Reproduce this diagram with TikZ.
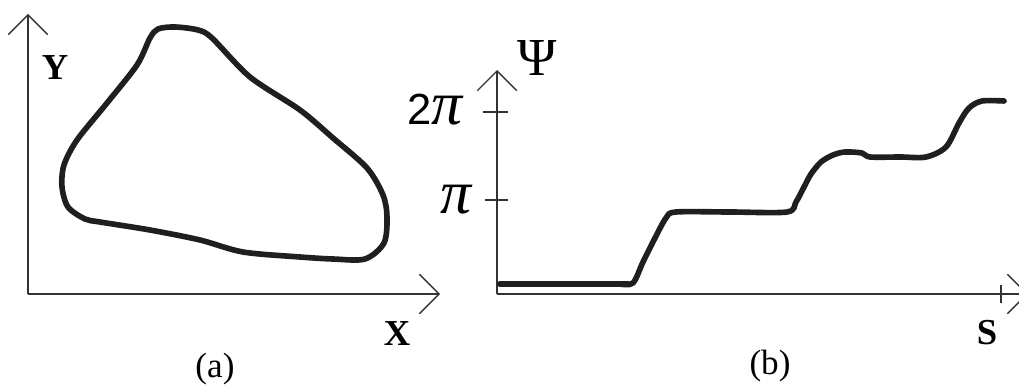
\documentclass[tikz,border=0pt]{standalone}
\usepackage{fontspec}
\setmainfont{Liberation Serif}
\newfontfamily\axfont{Liberation Sans}
\usetikzlibrary{arrows.meta}

\begin{document}
\begin{tikzpicture}[
x=0.025cm, y=-0.025cm,
axis/.style={draw=black!80, line width=1pt, -{Straight Barb[length=14pt, width=28pt, line width=1pt]}},
tick/.style={draw=black!80, line width=1pt},
curve/.style={draw=black!88, line width=4pt, line cap=round, line join=round},
var/.style={font=\fontsize{26}{28}\selectfont\bfseries},
caption/.style={font=\fontsize{25}{27}\selectfont},
val/.style={font=\fontsize{31}{33}\selectfont}
]
\useasboundingbox (0,0) rectangle (1019,386);

% (a) contour in the plane
\coordinate (oa) at (28,294);
\coordinate (ya) at (28,14);
\coordinate (xa) at (440,294);
\draw[axis] (oa) -- (ya);
\draw[axis] (oa) -- (xa);
\node[var] (ylab) at (55,68) {Y};
\node[var] (xlab) at (397,334) {X};
\draw[curve] plot[smooth cycle, tension=0.5] coordinates {
(158,29) (175,27) (198,30) (212,38) (250,77) (300,110) (333,138) (367,168)
(383,195) (387,217) (384,243) (365,259) (333,259) (300,257) (243,252)
(200,240) (150,230) (100,222) (85,219) (68,207) (62,187) (64,165) (77,140)
(107,103) (137,65) (150,38)};
\node[caption] (capa) at (215,369) {(a)};

% (b) turning angle against arc length
\coordinate (ob) at (497,294);
\coordinate (yb) at (497,70);
\coordinate (xb) at (1028,294);
\draw[axis] (ob) -- (yb);
\draw[axis] (ob) -- (xb);
\draw[tick] (483,112) -- (508,112);
\draw[tick] (485,200) -- (508,200);
\draw[tick] (1001,285) -- (1001,303);
\node[font=\fontsize{38}{40}\selectfont] (psi) at (537,58) {Ψ};
\node[val] (twopi) at (435,110) {{\axfont 2}{\fontsize{44}{46}\selectfont\itshape π}};
\node[val] (pi) at (456,200) {{\fontsize{44}{46}\selectfont\itshape π}};
\node[var] (slab) at (987,333) {S};
\draw[curve, line width=4.4pt] (500,284) -- (628,284);
\draw[curve] plot[smooth, tension=0.5] coordinates {
(620,284) (633,283) (643,262) (655,238) (666,218) (676,212) (730,212) (787,212)
(796,202) (804,187) (811,174) (821,162) (833,155) (845,152) (862,153) (870,157)
(900,157) (926,157) (946,147) (959,123) (969,108) (982,101) (1004,101)};
\node[caption] (capb) at (770,366) {(b)};
\end{tikzpicture}
\end{document}
